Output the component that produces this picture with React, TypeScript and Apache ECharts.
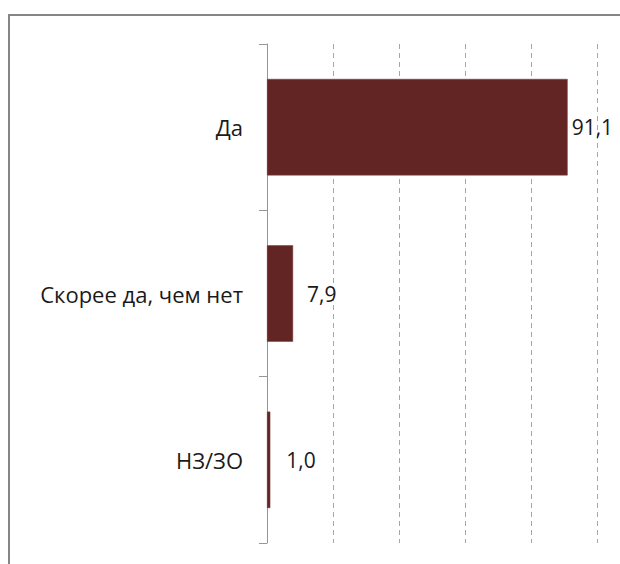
import React, { useEffect, useRef } from "react";
import * as echarts from "echarts";

const categories = ["Да", "Скорее да, чем нет", "НЗ/ЗО"];
const values = [91.1, 7.9, 1.0];
const labelGaps = [4, 14, 16];

export default function App() {
  const ref = useRef<HTMLDivElement>(null);
  useEffect(() => {
    if (!ref.current) return;
    const chart = echarts.init(ref.current, undefined, { renderer: "svg" });
    chart.setOption({
      animation: false,
      backgroundColor: "#ffffff",
      graphic: [
        {
          type: "rect",
          shape: { x: 9, y: 15, width: 700, height: 700 },
          style: { fill: "none", stroke: "#868686", lineWidth: 2 },
          silent: true,
        },
      ],
      grid: { left: 267, right: 23, top: 44, bottom: 21 },
      xAxis: {
        type: "value",
        min: 0,
        max: 100,
        interval: 20,
        axisLine: { show: false },
        axisTick: { show: false },
        axisLabel: { show: false },
        splitLine: {
          show: true,
          lineStyle: { color: "#a6a6a6", type: [5, 4], width: 1 },
        },
      },
      yAxis: {
        type: "category",
        inverse: true,
        data: categories,
        axisLine: { show: true, lineStyle: { color: "#969696", width: 1 } },
        axisTick: { show: true, length: 8, lineStyle: { color: "#969696" } },
        axisLabel: {
          margin: 24,
          color: "#1a1a1a",
          fontSize: 22,
          fontFamily: "Open Sans",
        },
      },
      series: [
        {
          type: "bar",
          data: values.map((v, i) => ({
            value: v,
            label: { distance: labelGaps[i] },
          })),
          barWidth: "58%",
          itemStyle: { color: "#632524", borderColor: "#7a3b3b", borderWidth: 0.5 },
          label: {
            show: true,
            position: "right",
            color: "#1a1a1a",
            fontSize: 21,
            fontFamily: "Open Sans",
            formatter: (p: any) => p.value.toFixed(1).replace(".", ","),
          },
        },
      ],
    });
    return () => chart.dispose();
  }, []);
  return (
    <div
      ref={ref}
      style={{ position: "absolute", left: 0, top: 0, width: 620, height: 564 }}
    />
  );
}
